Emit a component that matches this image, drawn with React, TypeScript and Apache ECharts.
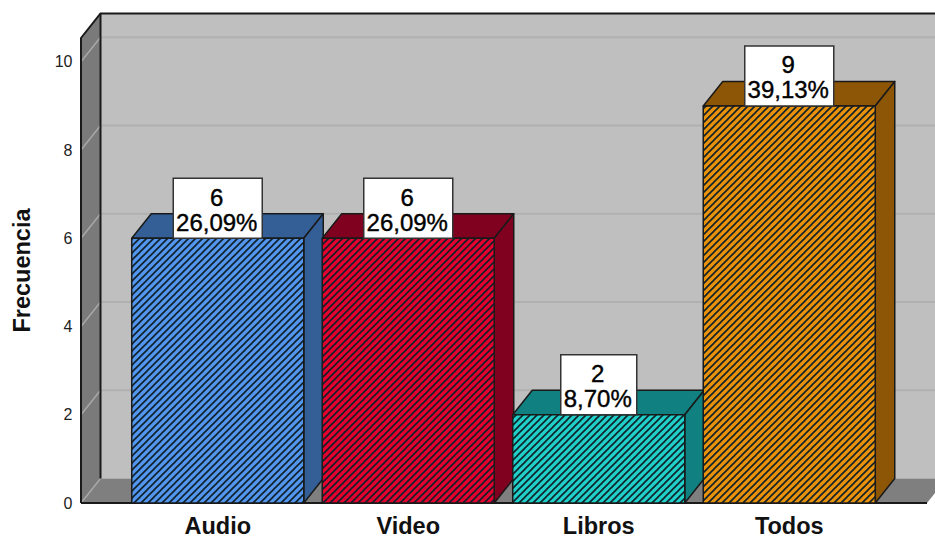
import React, { useEffect, useRef } from "react";
import * as echarts from "echarts";

const categories = ["Audio", "Video", "Libros", "Todos"];
const frequencies = [6, 6, 2, 9];
const percentages = ["26,09%", "26,09%", "8,70%", "39,13%"];
const yTicks = [0, 2, 4, 6, 8, 10];
const frontColors = ["#5296ee", "#e4002f", "#20d0c8", "#e8920c"];
const darkColors = ["#335f96", "#80001f", "#108080", "#8c5606"];
const labelWidths = [89, 89, 76, 89];

const DX = 19.5;
const DY = 24.5;
const FONT = "'Liberation Sans', Arial, sans-serif";
const INK = "#1a1a1a";

function hatch(color: string) {
  const s = 7;
  const c = document.createElement("canvas");
  c.width = s;
  c.height = s;
  const g = c.getContext("2d")!;
  g.fillStyle = color;
  g.fillRect(0, 0, s, s);
  g.strokeStyle = "#10202a";
  g.lineWidth = 1.6;
  for (const o of [-s, 0, s]) {
    g.beginPath();
    g.moveTo(o - 1, s + 1);
    g.lineTo(o + s + 1, -1);
    g.stroke();
  }
  return { image: c, repeat: "repeat" };
}

export default function App() {
  const ref = useRef<HTMLDivElement>(null);
  useEffect(() => {
    document.body.style.margin = "0";
    const chart = echarts.init(ref.current!, undefined, { renderer: "svg" });
    const fills = frontColors.map(hatch);
    chart.setOption({
      animation: false,
      backgroundColor: "#ffffff",
      grid: { left: 122.5, top: 38, width: 762, height: 465 },
      xAxis: {
        type: "category",
        data: categories,
        axisTick: { show: false },
        axisLine: { show: false },
        axisLabel: { color: "#111", fontFamily: FONT, fontWeight: "bold", fontSize: 23.5, margin: 11 },
      },
      yAxis: {
        type: "value",
        min: 0,
        max: 10.54,
        interval: 2,
        offset: 41,
        name: "Frecuencia",
        nameLocation: "middle",
        nameGap: 48,
        nameRotate: 90,
        nameTextStyle: { color: "#111", fontFamily: FONT, fontWeight: "bold", fontSize: 23.5 },
        axisLine: { show: false },
        axisTick: { show: false },
        splitLine: { show: false },
        axisLabel: { color: "#222", fontFamily: FONT, fontSize: 16, margin: 9, showMaxLabel: false,
          formatter: (v: number) => (yTicks.includes(v) ? String(v) : "") },
      },
      series: [
        {
          type: "custom",
          name: "frame",
          silent: true,
          clip: false,
          z: 1,
          data: [0],
          renderItem: (_p: any, api: any) => {
            const y0 = api.coord([0, 0])[1];
            const yTop = api.coord([0, 10.54])[1];
            const xL = 81;
            const xR = 935;
            const bx = xL + DX;
            const children: any[] = [
              { type: "rect", shape: { x: bx, y: yTop - DY, width: xR - bx, height: y0 - yTop }, style: { fill: "#bfbfbf" } },
              { type: "polygon", shape: { points: [[xL, y0], [bx, y0 - DY], [bx, yTop - DY], [xL, yTop]] }, style: { fill: "#7a7a7a" } },
              { type: "polygon", shape: { points: [[xL, y0], [bx, y0 - DY], [xR, y0 - DY], [xR, y0 - 10], [xR - 8, y0]] }, style: { fill: "#7f7f7f" } },
            ];
            yTicks.forEach((t) => {
              const y = api.coord([0, t])[1];
              if (t > 0) {
                children.push({ type: "line", shape: { x1: bx, y1: y - DY, x2: xR, y2: y - DY }, style: { stroke: "#b0b0b0", lineWidth: 2 } });
              }
              children.push({ type: "line", shape: { x1: xL, y1: y, x2: bx, y2: y - DY }, style: { stroke: "#a8a8a8", lineWidth: 1.5 } });
            });
            children.push(
              { type: "polyline", shape: { points: [[xL, y0], [xL, yTop], [bx, yTop - DY], [xR, yTop - DY]] }, style: { fill: "none", stroke: INK, lineWidth: 2 } },
              { type: "line", shape: { x1: bx, y1: yTop - DY, x2: bx, y2: y0 - DY }, style: { stroke: INK, lineWidth: 2 } },
              { type: "line", shape: { x1: xL, y1: y0, x2: xR - 8, y2: y0 }, style: { stroke: INK, lineWidth: 2 } },
            );
            return { type: "group", children };
          },
        },
        {
          type: "custom",
          name: "Frecuencia",
          silent: true,
          clip: false,
          z: 3,
          encode: { x: 0, y: 1 },
          data: frequencies.map((v, i) => [i, v]),
          renderItem: (p: any, api: any) => {
            const i = api.value(0);
            const v = api.value(1);
            const [cx, top] = api.coord([i, v]);
            const bottom = api.coord([i, 0])[1];
            const w = api.size([1, 0])[0] * 0.903;
            const l = cx - w / 2;
            const r = cx + w / 2;
            const edge = { stroke: INK, lineWidth: 1.5, lineJoin: "round" };
            const lw = labelWidths[p.dataIndex];
            const textStyle = { fill: "#000", stroke: "#000", lineWidth: 0.4, font: `24px ${FONT}`, align: "center", verticalAlign: "middle" };
            return {
              type: "group",
              children: [
                { type: "polygon", shape: { points: [[l, top], [l + DX, top - DY], [r + DX, top - DY], [r, top]] }, style: { fill: darkColors[p.dataIndex], ...edge } },
                { type: "polygon", shape: { points: [[r, top], [r + DX, top - DY], [r + DX, bottom - DY], [r, bottom]] }, style: { fill: darkColors[p.dataIndex], ...edge } },
                { type: "rect", shape: { x: l, y: top, width: w, height: bottom - top }, style: { fill: fills[p.dataIndex], ...edge } },
                { type: "rect", shape: { x: cx - lw / 2, y: top - 60, width: lw, height: 60 }, style: { fill: "#ffffff", stroke: "#333333", lineWidth: 1.5 } },
                { type: "text", x: cx - 1, y: top - 41, style: { ...textStyle, text: String(v) } },
                { type: "text", x: cx - 1, y: top - 16, style: { ...textStyle, text: percentages[p.dataIndex] } },
              ],
            };
          },
        },
      ],
    });
    return () => chart.dispose();
  }, []);
  return <div ref={ref} style={{ width: 935, height: 538 }} />;
}
